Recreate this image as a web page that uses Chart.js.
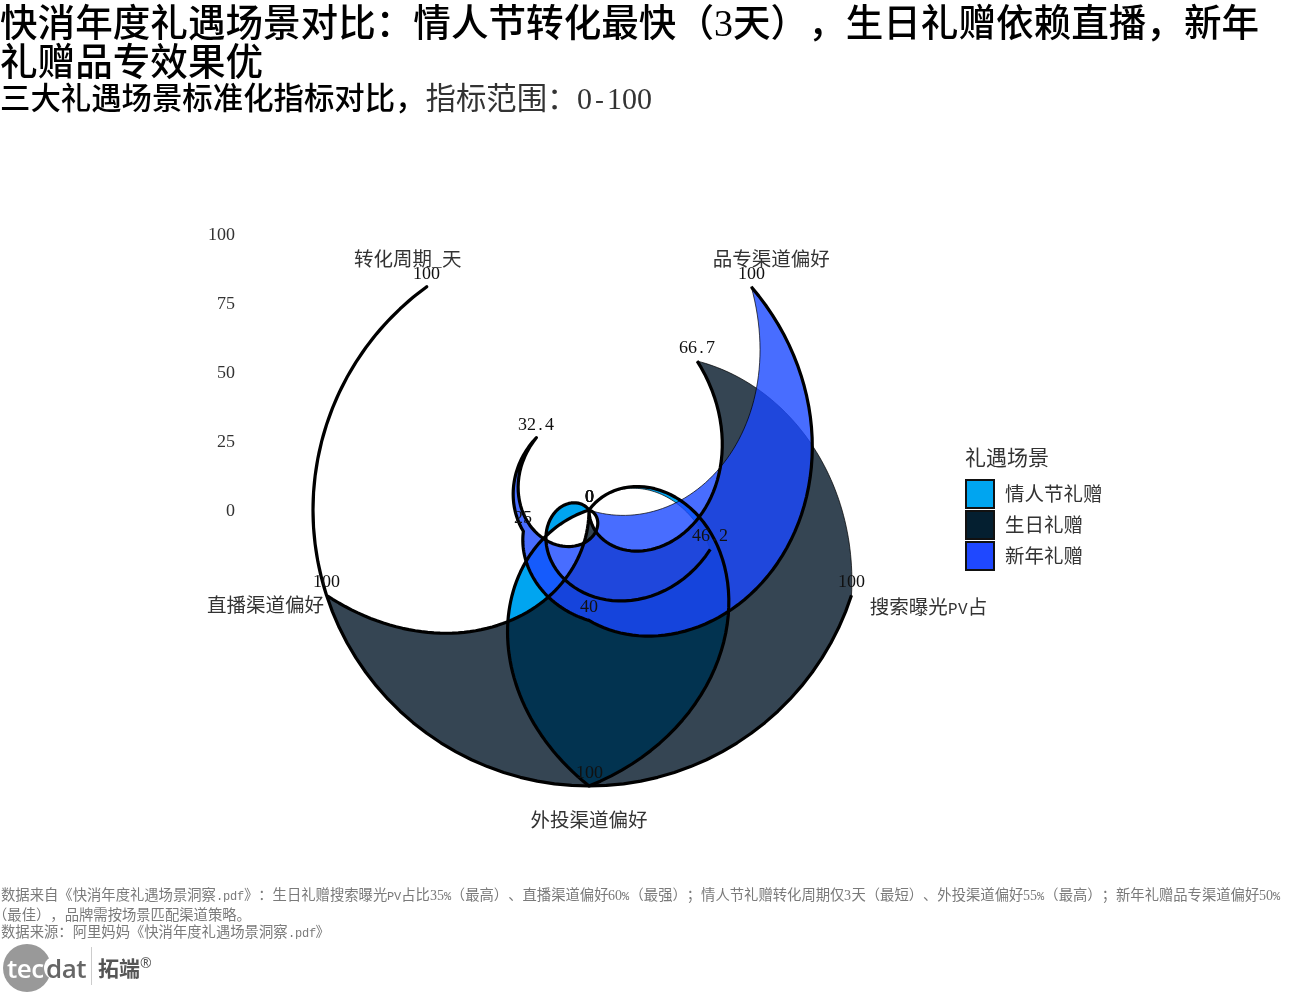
<!DOCTYPE html>
<html lang="zh">
<head>
<meta charset="utf-8">
<title>快消年度礼遇场景对比</title>
<script src="https://cdn.jsdelivr.net/npm/chart.js@4"></script>
<style>
    /* Latin de media anchura, como en el original: digitos serif, resto mono */
    @font-face {
        font-family: "LatinoMono";
        src: local("Liberation Mono");
        size-adjust: 83.3%;
        unicode-range: U+20-2F, U+3A-7E;
    }
    @font-face {
        font-family: "LatinoMono";
        src: local("Liberation Serif");
        unicode-range: U+30-39;
    }
    body { margin: 0; background: #fff; font-family: "LatinoMono", "Noto Sans CJK SC", sans-serif; text-spacing-trim: space-all; font-kerning: none; }
    #pagina { position: relative; width: 1290px; height: 998px; overflow: hidden; }
    #grafico { position: absolute; left: 0; top: 0; }
    .txt { position: absolute; white-space: nowrap; }
    .titulo { left: 0; font-size: 37.6px; line-height: 39px; font-weight: 500; color: #000; }
    .subtitulo { left: 0; top: 85px; font-size: 30.4px; line-height: 36px; color: #333; }
    .subtitulo b { font-weight: 500; color: #000; }
    .nota { left: 1px; font-size: 14.33px; line-height: 18px; color: #7a7a7a; }
    .leyenda-titulo { left: 965px; top: 447px; font-size: 21px; line-height: 26px; color: #333; }
    .leyenda-item { left: 1005px; font-size: 19.5px; line-height: 26px; color: #333; }
    .clave { position: absolute; left: 965px; width: 26px; height: 26px; border: 2px solid #111; }
    .logo-circulo { position: absolute; left: 3px; top: 944px; width: 48px; height: 48px; border-radius: 50%; background: #999; }
    .logo-muesca { position: absolute; left: 44px; top: 956px; width: 24px; height: 24px; border-radius: 50%; background: #fff; }
</style>
</head>
<body>
<div id="pagina">
    <canvas id="grafico" width="1290" height="998"></canvas>
    <div class="txt titulo" style="top:8px">快消年度礼遇场景对比：情人节转化最快（3天），生日礼赠依赖直播，新年</div>
    <div class="txt titulo" style="top:47px">礼赠品专效果优</div>
    <div class="txt subtitulo"><b>三大礼遇场景标准化指标对比，</b>指标范围：0-100</div>

    <div class="txt leyenda-titulo">礼遇场景</div>
    <div id="leyenda"></div>

    <div class="txt nota" style="top:888px">数据来自《快消年度礼遇场景洞察.pdf》：生日礼赠搜索曝光PV占比35%（最高）、直播渠道偏好60%（最强）；情人节礼赠转化周期仅3天（最短）、外投渠道偏好55%（最高）；新年礼赠品专渠道偏好50%</div>
    <div class="txt nota" style="left:-7px;top:908px">（最佳），品牌需按场景匹配渠道策略。</div>
    <div class="txt nota" style="top:925px">数据来源：阿里妈妈《快消年度礼遇场景洞察.pdf》</div>

    <div class="logo-circulo"></div>
    <div class="logo-muesca"></div>
    <div class="txt" style="left:7px;top:949px;font:600 26px/38px 'Open Sans',sans-serif;color:#fff;letter-spacing:-0.5px">tec</div>
    <div class="txt" style="left:46px;top:949px;font:600 26px/38px 'Open Sans',sans-serif;color:#666;letter-spacing:-0.5px">dat</div>
    <div style="position:absolute;left:91px;top:947px;width:1px;height:38px;background:#ccc"></div>
    <div class="txt" style="left:98px;top:952px;font:bold 21px/30px 'Noto Sans CJK SC',sans-serif;color:#555">拓端</div>
    <div class="txt" style="left:140px;top:955px;font:14px/16px 'Open Sans',sans-serif;color:#555">®</div>
</div>

<script>
// Datos (indice normalizado 0-100)
const indicadores = ['品专渠道偏好', '搜索曝光PV占', '外投渠道偏好', '直播渠道偏好', '转化周期_天'];
const escenarios = ['情人节礼赠', '生日礼赠', '新年礼赠'];
const valentin = [0, 46.2, 100, 0, 0];
const cumpleanos = [66.7, 100, 0, 100, 100];
const anoNuevo = [100, 0, 40, 25, 32.4];
const marcasEje = [0, 25, 50, 75, 100];

// Orden de las filas en los datos: la linea recorre los indicadores en este orden
const ordenFilas = [0, 2, 3, 4, 1];

const coloresRelleno = ['rgba(0,165,240,1)', 'rgba(2,22,40,0.8)', 'rgba(26,72,255,0.8)'];
const coloresClave = ['#00a5f0', '#041f30', '#1f48ff'];

// Desplazamiento de cada etiqueta respecto al punto 100 de su eje
const offsetEtiquetas = [[20, -25], [77, 14], [0, 37], [-61, 12], [-19, -25]];

const fuenteValores = '17.5px LatinoMono, "Noto Sans CJK SC"';
const fuenteEtiquetas = '19.5px LatinoMono, "Noto Sans CJK SC"';

// Punto sobre la escala: indice y valor varian linealmente (coordenada polar)
function trazarTramo(ctx, escala, i0, v0, i1, v1, primero) {
    const pasos = 60;
    for (let k = 0; k <= pasos; k++) {
        const t = k / pasos;
        const p = escala.getPointPositionForValue(i0 + (i1 - i0) * t, v0 + (v1 - v0) * t);
        if (k === 0 && primero) ctx.moveTo(p.x, p.y);
        else ctx.lineTo(p.x, p.y);
    }
}

function trazarSerie(ctx, escala, valores, cerrar) {
    ctx.beginPath();
    const tramos = cerrar ? ordenFilas.length : ordenFilas.length - 1;
    for (let n = 0; n < tramos; n++) {
        const a = ordenFilas[n];
        const b = ordenFilas[(n + 1) % ordenFilas.length];
        trazarTramo(ctx, escala, a, valores[a], b, valores[b], n === 0);
    }
    if (cerrar) ctx.closePath();
}

const pluginPolar = {
    id: 'polarCurvo',
    afterDatasetsDraw(chart) {
        const ctx = chart.ctx;
        const escala = chart.scales.r;
        const series = chart.data.datasets.map(d => d.data);

        ctx.save();
        // Rellenos con borde fino
        series.forEach((valores, s) => {
            trazarSerie(ctx, escala, valores, true);
            ctx.fillStyle = coloresRelleno[s];
            ctx.fill('evenodd');
            ctx.strokeStyle = 'rgba(0,0,0,0.7)';
            ctx.lineWidth = 1;
            ctx.stroke();
        });
        // Lineas gruesas (sin cerrar)
        series.forEach(valores => {
            trazarSerie(ctx, escala, valores, false);
            ctx.strokeStyle = '#000';
            ctx.lineWidth = 3.2;
            ctx.lineJoin = 'round';
            ctx.stroke();
        });

        ctx.textAlign = 'center';
        ctx.textBaseline = 'middle';

        // Valores encima de cada punto
        ctx.font = fuenteValores;
        ctx.fillStyle = '#111';
        series.forEach(valores => {
            valores.forEach((v, i) => {
                const p = escala.getPointPositionForValue(i, v);
                ctx.fillText(String(v), p.x, p.y - 12);
            });
        });

        // Etiquetas de los indicadores
        ctx.font = fuenteEtiquetas;
        ctx.fillStyle = '#333';
        indicadores.forEach((nombre, i) => {
            const p = escala.getPointPositionForValue(i, 100);
            ctx.fillText(nombre, p.x + offsetEtiquetas[i][0], p.y + offsetEtiquetas[i][1]);
        });

        // Marcas del eje radial, a la izquierda
        ctx.font = fuenteValores;
        ctx.textAlign = 'right';
        marcasEje.forEach(v => {
            ctx.fillText(String(v), escala.xCenter - 354, escala.yCenter - escala.getDistanceFromCenterForValue(v) + 2);
        });
        ctx.restore();
    }
};

// Leyenda
const leyenda = document.getElementById('leyenda');
escenarios.forEach((nombre, i) => {
    const top = 479 + i * 31;
    leyenda.innerHTML += `<div class="clave" style="top:${top}px;background:${coloresClave[i]}"></div>` +
        `<div class="txt leyenda-item" style="top:${top + 5}px">${nombre}</div>`;
});

const grafico = new Chart(document.getElementById('grafico').getContext('2d'), {
    type: 'radar',
    data: {
        labels: indicadores,
        datasets: [
            { label: escenarios[0], data: valentin },
            { label: escenarios[1], data: cumpleanos },
            { label: escenarios[2], data: anoNuevo }
        ]
    },
    options: {
        responsive: false,
        animation: false,
        layout: { padding: { left: 313, right: 425, top: 234, bottom: 212 } },
        datasets: { radar: { showLine: false, pointRadius: 0, fill: false } },
        plugins: { legend: { display: false }, tooltip: { enabled: false } },
        scales: {
            r: {
                display: false,
                min: 0,
                max: 100,
                startAngle: 36,
                ticks: { display: false },
                pointLabels: { display: false }
            }
        }
    },
    plugins: [pluginPolar]
});

// Las fuentes locales del canvas cargan aparte: redibujar cuando esten listas
Promise.all([
    document.fonts.load(fuenteValores, '100'),
    document.fonts.load(fuenteValores, '.')
]).then(() => grafico.draw());
</script>
</body>
</html>
